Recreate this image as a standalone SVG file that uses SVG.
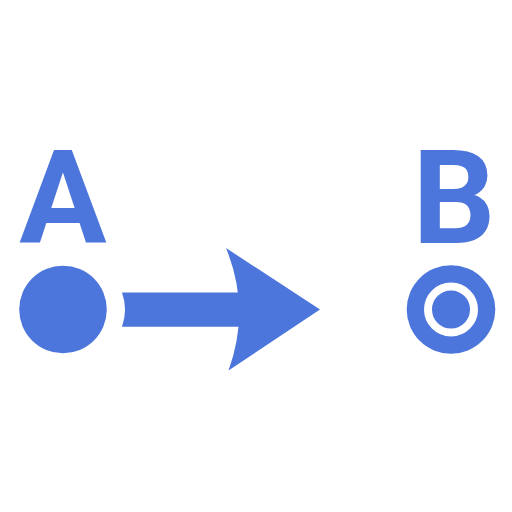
<svg xmlns="http://www.w3.org/2000/svg" width="512" height="512" viewBox="0 0 512 512">
<style>
.fill{fill:#4c76dc}
.lbl{font-family:Roboto,"Liberation Sans",sans-serif;font-weight:700;font-size:130px;fill:#4c76dc;text-anchor:middle}
</style>
<rect width="512" height="512" fill="#ffffff"/>
<g id="node-A">
<text class="lbl" x="63" y="243">A</text>
<circle class="fill" cx="63" cy="309.5" r="43.8"/>
</g>
<g id="node-B">
<text class="lbl" x="454" y="243">B</text>
<circle class="fill" cx="451" cy="309.5" r="44.3"/>
<circle cx="451" cy="309.5" r="23" fill="none" stroke="#ffffff" stroke-width="8"/>
</g>
<g id="connectors">
<path class="fill" d="M122 292.5 Q128 309.5 122 326.7 L240 326.7 L240 292.5 Z"/>
<path class="fill" d="M226 248 L320 309.5 L228.5 370.5 Q251 309 226 248 Z"/>
</g>
</svg>
